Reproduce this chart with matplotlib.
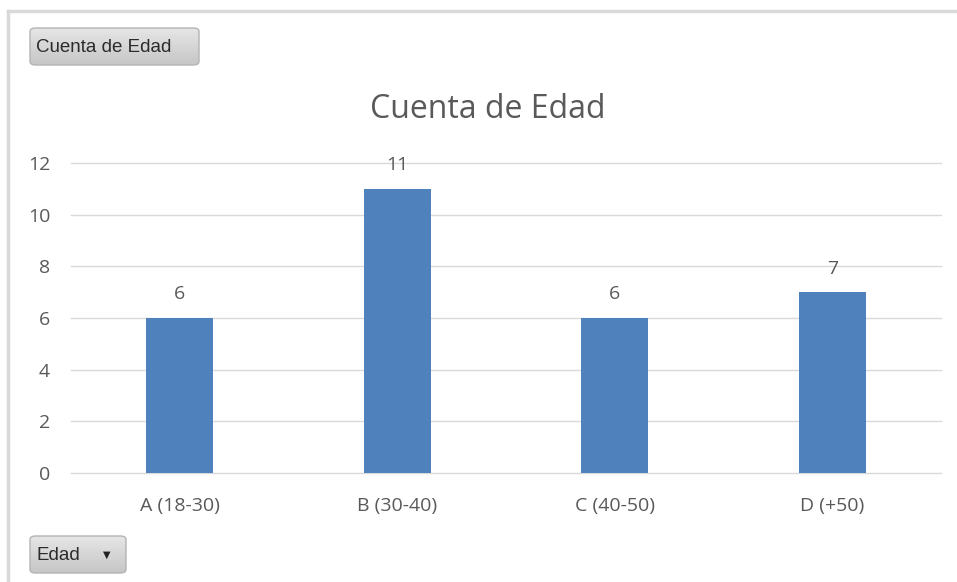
import numpy as np
import matplotlib.pyplot as plt
from matplotlib.patches import FancyBboxPatch
from matplotlib.lines import Line2D

plt.rcParams['font.family'] = ['Open Sans', 'DejaVu Sans']

categories = ['A (18-30)', 'B (30-40)', 'C (40-50)', 'D (+50)']
counts = [6, 11, 6, 7]
y_ticks = [0, 2, 4, 6, 8, 10, 12]

text_color = '#595959'
bar_color = '#4F81BD'
grid_color = '#D9D9D9'

W, H = 957, 582
fig = plt.figure(figsize=(W / 100, H / 100), dpi=100)
fig.patch.set_facecolor('white')

ax = fig.add_axes([71 / W, 1 - 473 / H, (941 - 71) / W, (473 - 163) / H])
x = range(len(categories))
bars = ax.bar(x, counts, width=0.31, color=bar_color, zorder=3)
ax.set_xlim(-0.5, len(categories) - 0.5)
ax.set_ylim(0, 12)
ax.set_yticks(y_ticks)
ax.set_xticks(list(x))
ax.set_xticklabels(categories)
ax.tick_params(length=0, labelsize=14, colors=text_color)
ax.tick_params(axis='x', pad=17)
ax.tick_params(axis='y', pad=15)
for t in y_ticks:
    ax.axhline(t, color=grid_color, linewidth=1, zorder=0, clip_on=False)
for s in ax.spines.values():
    s.set_visible(False)

for b, v in zip(bars, counts):
    ax.annotate(str(v), (b.get_x() + b.get_width() / 2, v), xytext=(0, 10.5),
                textcoords='offset points', ha='center', va='bottom',
                fontsize=14, color=text_color)

fig.text(488 / W, 1 - 109 / H, 'Cuenta de Edad', ha='center', va='center',
         fontsize=23, color=text_color)

# frame lines of the screenshot
fig.add_artist(Line2D([8 / W, 8 / W], [0, 1 - 11 / H], color='#D9D9D9', linewidth=2.5))
fig.add_artist(Line2D([8 / W, 1], [1 - 11 / H, 1 - 11 / H], color='#D9D9D9', linewidth=2.5))

grad = np.linspace(0, 1, 64).reshape(-1, 1)


def button(x0, y0, x1, y1, label, arrow=False):
    box = FancyBboxPatch((x0 / W, 1 - y1 / H), (x1 - x0) / W, (y1 - y0) / H,
                         boxstyle='round,pad=0,rounding_size=0.006',
                         transform=fig.transFigure, facecolor='none',
                         edgecolor='#B4B4B4', linewidth=1, zorder=5)
    fig.add_artist(box)
    bax = fig.add_axes([x0 / W, 1 - y1 / H, (x1 - x0) / W, (y1 - y0) / H], zorder=4)
    bax.axis('off')
    im = bax.imshow(grad, cmap=plt.matplotlib.colors.LinearSegmentedColormap.from_list(
        'btn', ['#E6E6E6', '#C6C6C6']), aspect='auto', extent=(0, 1, 0, 1),
        transform=fig.transFigure)
    im.set_extent((x0 / W, x1 / W, 1 - y1 / H, 1 - y0 / H))
    im.set_clip_path(box)
    fig.text((x0 + 6) / W, 1 - (y0 + y1 + 2) / 2 / H, label, ha='left', va='center',
             fontsize=13.5, color='#2B2B2B', family=['Liberation Sans', 'DejaVu Sans'],
             zorder=6)
    if arrow:
        fig.text((x1 - 19) / W, 1 - (y0 + y1) / 2 / H, '\u25BC', ha='center', va='center',
                 fontsize=7, color='#222222', family='DejaVu Sans', zorder=6)


button(30, 28, 199, 65, 'Cuenta de Edad')
button(30, 536, 126, 573, 'Edad', arrow=True)

fig.savefig('out.png', dpi=100, facecolor='white')
